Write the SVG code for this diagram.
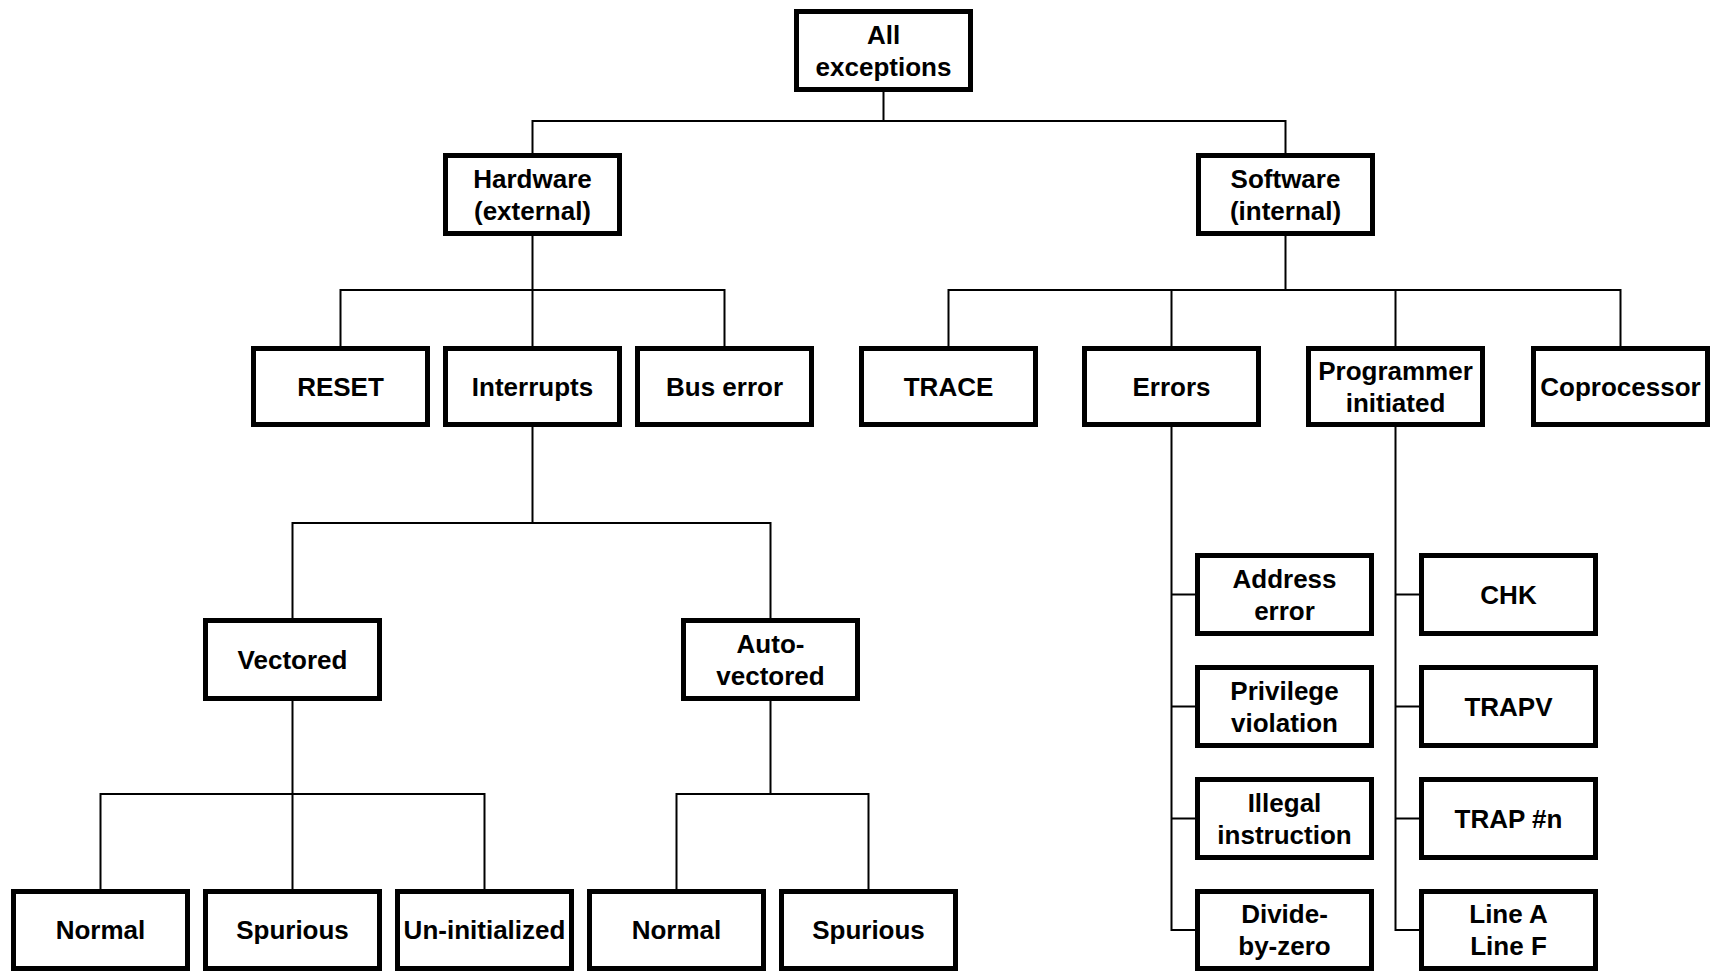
<svg xmlns="http://www.w3.org/2000/svg" width="1711" height="971" viewBox="0 0 1711 971">
<style>
.b{fill:#fff;stroke:#000;stroke-width:5}
.c{fill:none;stroke:#000;stroke-width:2}
text{font-family:"Liberation Sans",Arial,sans-serif;font-weight:bold;font-size:26px;text-anchor:middle;fill:#000}
</style>
<rect width="1711" height="971" fill="#fff"/>
<g id="connectors" class="c">
<path d="M883.5 92V121M532.5 153V121H1285.5V153"/>
<path d="M532.5 236V290M340.5 346V290H724.5V346M532.5 290V346"/>
<path d="M1285.5 236V290M948.5 346V290H1620.5V346M1171.5 290V346M1395.5 290V346"/>
<path d="M532.5 427V523M292.5 618V523H770.5V618"/>
<path d="M292.5 701V794M100.5 889V794H484.5V889M292.5 794V889"/>
<path d="M770.5 701V794M676.5 889V794H868.5V889"/>
<path d="M1171.5 427V930H1195M1171.5 594.5H1195M1171.5 706.5H1195M1171.5 818.5H1195"/>
<path d="M1395.5 427V930H1419M1395.5 594.5H1419M1395.5 706.5H1419M1395.5 818.5H1419"/>
</g>
<g id="all"><rect class="b" x="796.5" y="11.5" width="174" height="78"/><text x="883.5" y="43.5">All</text><text x="883.5" y="75.5">exceptions</text></g>
<g id="hardware"><rect class="b" x="445.5" y="155.5" width="174" height="78"/><text x="532.5" y="187.5">Hardware</text><text x="532.5" y="219.5">(external)</text></g>
<g id="software"><rect class="b" x="1198.5" y="155.5" width="174" height="78"/><text x="1285.5" y="187.5">Software</text><text x="1285.5" y="219.5">(internal)</text></g>
<g id="reset"><rect class="b" x="253.5" y="348.5" width="174" height="76"/><text x="340.5" y="395.5">RESET</text></g>
<g id="interrupts"><rect class="b" x="445.5" y="348.5" width="174" height="76"/><text x="532.5" y="395.5">Interrupts</text></g>
<g id="buserror"><rect class="b" x="637.5" y="348.5" width="174" height="76"/><text x="724.5" y="395.5">Bus error</text></g>
<g id="trace"><rect class="b" x="861.5" y="348.5" width="174" height="76"/><text x="948.5" y="395.5">TRACE</text></g>
<g id="errors"><rect class="b" x="1084.5" y="348.5" width="174" height="76"/><text x="1171.5" y="395.5">Errors</text></g>
<g id="programmer"><rect class="b" x="1308.5" y="348.5" width="174" height="76"/><text x="1395.5" y="379.5">Programmer</text><text x="1395.5" y="411.5">initiated</text></g>
<g id="coprocessor"><rect class="b" x="1533.5" y="348.5" width="174" height="76"/><text x="1620.5" y="395.5">Coprocessor</text></g>
<g id="vectored"><rect class="b" x="205.5" y="620.5" width="174" height="78"/><text x="292.5" y="668.5">Vectored</text></g>
<g id="autovectored"><rect class="b" x="683.5" y="620.5" width="174" height="78"/><text x="770.5" y="652.5">Auto-</text><text x="770.5" y="684.5">vectored</text></g>
<g id="normal1"><rect class="b" x="13.5" y="891.5" width="174" height="77"/><text x="100.5" y="939">Normal</text></g>
<g id="spurious1"><rect class="b" x="205.5" y="891.5" width="174" height="77"/><text x="292.5" y="939">Spurious</text></g>
<g id="uninit"><rect class="b" x="397.5" y="891.5" width="174" height="77"/><text x="484.5" y="939">Un-initialized</text></g>
<g id="normal2"><rect class="b" x="589.5" y="891.5" width="174" height="77"/><text x="676.5" y="939">Normal</text></g>
<g id="spurious2"><rect class="b" x="781.5" y="891.5" width="174" height="77"/><text x="868.5" y="939">Spurious</text></g>
<g id="address"><rect class="b" x="1197.5" y="555.5" width="174" height="78"/><text x="1284.5" y="587.5">Address</text><text x="1284.5" y="619.5">error</text></g>
<g id="privilege"><rect class="b" x="1197.5" y="667.5" width="174" height="78"/><text x="1284.5" y="699.5">Privilege</text><text x="1284.5" y="731.5">violation</text></g>
<g id="illegal"><rect class="b" x="1197.5" y="779.5" width="174" height="78"/><text x="1284.5" y="811.5">Illegal</text><text x="1284.5" y="843.5">instruction</text></g>
<g id="divide"><rect class="b" x="1197.5" y="891.5" width="174" height="77"/><text x="1284.5" y="923">Divide-</text><text x="1284.5" y="955">by-zero</text></g>
<g id="chk"><rect class="b" x="1421.5" y="555.5" width="174" height="78"/><text x="1508.5" y="603.5">CHK</text></g>
<g id="trapv"><rect class="b" x="1421.5" y="667.5" width="174" height="78"/><text x="1508.5" y="715.5">TRAPV</text></g>
<g id="trapn"><rect class="b" x="1421.5" y="779.5" width="174" height="78"/><text x="1508.5" y="827.5">TRAP #n</text></g>
<g id="linea"><rect class="b" x="1421.5" y="891.5" width="174" height="77"/><text x="1508.5" y="923">Line A</text><text x="1508.5" y="955">Line F</text></g>
</svg>
